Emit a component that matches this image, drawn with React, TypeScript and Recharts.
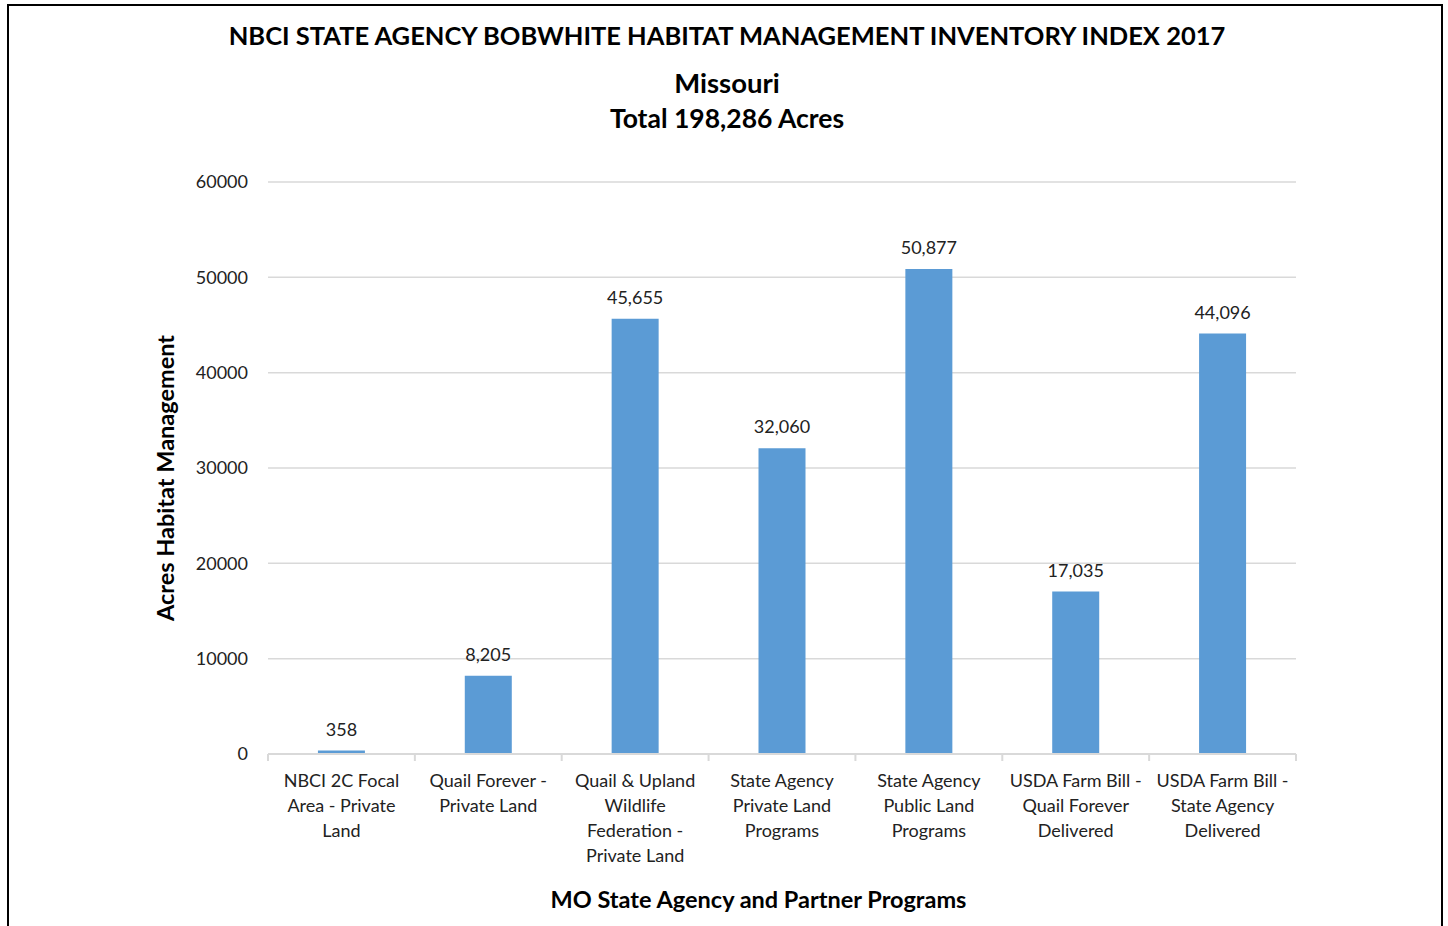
import React from 'react';
import { BarChart, Bar, XAxis, YAxis, CartesianGrid, LabelList } from 'recharts';

const categories = [
  'NBCI 2C Focal\nArea - Private\nLand',
  'Quail Forever -\nPrivate Land',
  'Quail & Upland\nWildlife\nFederation -\nPrivate Land',
  'State Agency\nPrivate Land\nPrograms',
  'State Agency\nPublic Land\nPrograms',
  'USDA Farm Bill -\nQuail Forever\nDelivered',
  'USDA Farm Bill -\nState Agency\nDelivered',
];
const acres = [358, 8205, 45655, 32060, 50877, 17035, 44096];
const yTicks = [0, 10000, 20000, 30000, 40000, 50000, 60000];

const data = categories.map((name, i) => ({ name, acres: acres[i] }));

const FONT = 'Lato, "Open Sans", "Noto Sans", sans-serif';
const W = 1448;
const H = 926;
const M_LEFT = 268;
const M_RIGHT = 152;
const M_TOP = 182;
const X_AXIS_H = 172;
const band = (W - M_LEFT - M_RIGHT) / categories.length;

const CategoryTick = (props: any) => {
  const { x, payload, index } = props;
  const lines = String(payload.value).split('\n');
  const axisY = H - X_AXIS_H;
  return (
    <g>
      <line x1={x - band / 2} x2={x - band / 2} y1={axisY} y2={axisY + 7} stroke="#d9d9d9" strokeWidth={2} />
      {index === categories.length - 1 && (
        <line x1={x + band / 2} x2={x + band / 2} y1={axisY} y2={axisY + 7} stroke="#d9d9d9" strokeWidth={2} />
      )}
      <text x={x} y={axisY + 33} textAnchor="middle" fill="#222" fontSize={18} fontFamily={FONT}>
        {lines.map((l, i) => (
          <tspan key={i} x={x} dy={i === 0 ? 0 : 25}>{l}</tspan>
        ))}
      </text>
    </g>
  );
};

const App: React.FC = () => {
  return (
    <div style={{ position: 'absolute', left: 0, top: 0, width: W, height: H, background: '#fff', fontFamily: FONT, overflow: 'hidden' }}>
      <div style={{ position: 'absolute', left: 7, top: 4, width: 1436, height: 940, border: '2px solid #000', boxSizing: 'border-box' }} />
      <div style={{ position: 'absolute', left: 0, width: 1454, top: 20, textAlign: 'center', fontSize: 25.5, fontWeight: 700, color: '#000' }}>
        NBCI STATE AGENCY BOBWHITE HABITAT MANAGEMENT INVENTORY INDEX 2017
      </div>
      <div style={{ position: 'absolute', left: 0, width: 1454, top: 65, textAlign: 'center', fontSize: 26.5, fontWeight: 700, color: '#000', lineHeight: '35px' }}>
        <span style={{ fontSize: 27.5 }}>Missouri</span><br />Total 198,286 Acres
      </div>
      <div style={{ position: 'absolute', left: 165, top: 478, transform: 'translate(-50%, -50%) rotate(-90deg)', whiteSpace: 'nowrap', fontSize: 23.5, fontWeight: 700, color: '#000' }}>
        Acres Habitat Management
      </div>
      <div style={{ position: 'absolute', left: 0, width: 1517, top: 885, textAlign: 'center', fontSize: 23.5, fontWeight: 700, color: '#000' }}>
        MO State Agency and Partner Programs
      </div>
      <div style={{ position: 'absolute', left: 0, top: 0 }}>
        <BarChart width={W} height={H} data={data} margin={{ top: M_TOP, right: M_RIGHT, left: 0, bottom: 0 }} barCategoryGap="34%">
          <CartesianGrid vertical={false} stroke="#d9d9d9" strokeWidth={1.5} />
          <XAxis dataKey="name" height={X_AXIS_H} interval={0} tick={<CategoryTick />} tickLine={false} axisLine={{ stroke: '#d9d9d9', strokeWidth: 2 }} />
          <YAxis width={M_LEFT} domain={[0, 60000]} ticks={yTicks} axisLine={false} tickLine={false} tickSize={0} tickMargin={20}
            tick={{ fill: '#222', fontSize: 18, fontFamily: FONT }} />
          <Bar dataKey="acres" fill="#5b9bd5" isAnimationActive={false}>
            <LabelList dataKey="acres" position="top" offset={15} fill="#222" fontSize={18} fontFamily={FONT}
              formatter={(v: any) => Number(v).toLocaleString('en-US')} />
          </Bar>
        </BarChart>
      </div>
    </div>
  );
};

export default App;
